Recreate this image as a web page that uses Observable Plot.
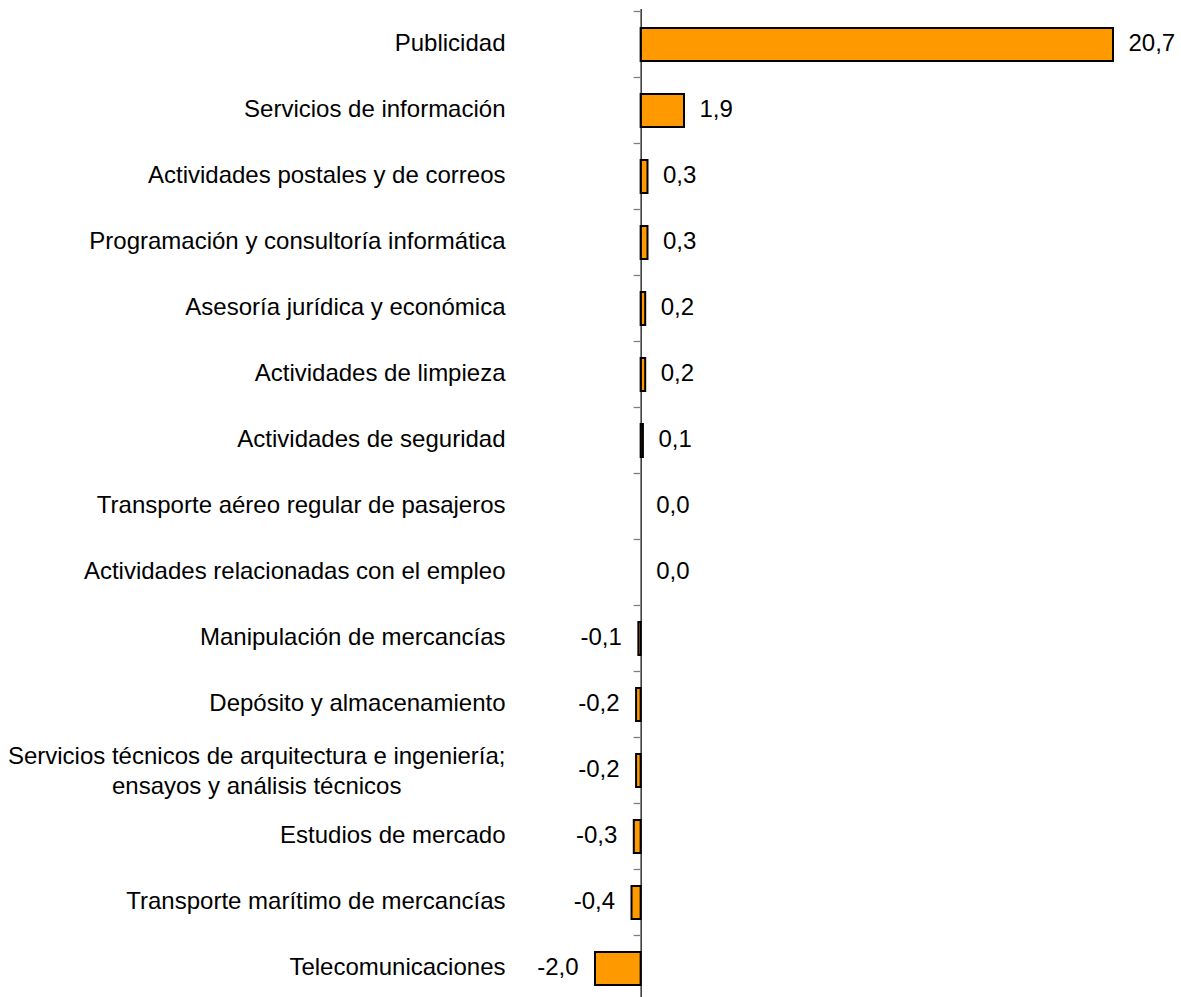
<!DOCTYPE html>
<html>
<head>
<meta charset="utf-8">
<script src="https://cdn.jsdelivr.net/npm/d3@7"></script>
<script src="https://cdn.jsdelivr.net/npm/@observablehq/plot@0.6"></script>
<style>
  html, body { margin: 0; padding: 0; background: #fff; overflow: hidden; }
  #chart svg { display: block; }
</style>
</head>
<body>
<div id="chart"></div>
<script>
const categories = [
  "Publicidad",
  "Servicios de información",
  "Actividades postales y de correos",
  "Programación y consultoría informática",
  "Asesoría jurídica y económica",
  "Actividades de limpieza",
  "Actividades de seguridad",
  "Transporte aéreo regular de pasajeros",
  "Actividades relacionadas con el empleo",
  "Manipulación de mercancías",
  "Depósito y almacenamiento",
  "Servicios técnicos de arquitectura e ingeniería;\nensayos y análisis técnicos",
  "Estudios de mercado",
  "Transporte marítimo de mercancías",
  "Telecomunicaciones"
];
const values = [20.7, 1.9, 0.3, 0.3, 0.2, 0.2, 0.1, 0.0, 0.0, -0.1, -0.2, -0.2, -0.3, -0.4, -2.0];

const data = categories.map((c, i) => ({cat: c, value: values[i]}));
const fmt = v => v.toFixed(1).replace(".", ",");

const FONT = "24px 'Liberation Sans', Arial, sans-serif";
const ctx = document.createElement("canvas").getContext("2d");
ctx.font = FONT;
const labelGap = -90;

const single = data.filter(d => !d.cat.includes("\n"));
const multi = data.filter(d => d.cat.includes("\n"));
const multiDx = multi.length ? labelGap - ctx.measureText(multi[0].cat.split("\n")[0]).width / 2 : 0;

function boundaryTicks(index, scales, values, dimensions) {
  const ns = "http://www.w3.org/2000/svg";
  const g = document.createElementNS(ns, "g");
  const y = scales.y;
  const step = y(categories[1]) - y(categories[0]);
  const bw = step * 0.5;
  const x0 = scales.x(0);
  const tops = categories.map(c => y(c) - (step - bw) / 2);
  tops.push(tops[tops.length - 1] + step);
  for (const t of tops) {
    const l = document.createElementNS(ns, "line");
    l.setAttribute("x1", x0 - 7);
    l.setAttribute("x2", x0);
    l.setAttribute("y1", t);
    l.setAttribute("y2", t);
    l.setAttribute("stroke", "#7f7f7f");
    l.setAttribute("stroke-width", 1.3);
    g.appendChild(l);
  }
  return g;
}

const chart = Plot.plot({
  width: 1181,
  height: 1003,
  marginTop: 9,
  marginBottom: 0,
  marginLeft: 595,
  marginRight: 68,
  style: {fontFamily: "'Liberation Sans', Arial, sans-serif", fontSize: "24px", color: "#000", background: "#fff"},
  x: {domain: [-2, 20.7], axis: null},
  y: {domain: categories, axis: null, paddingInner: 0.5, paddingOuter: 0.25},
  marks: [
    Plot.barX(data, {x: "value", y: "cat", fill: "#FF9900", stroke: "#000", strokeWidth: 2}),
    Plot.ruleX([0], {stroke: "#000", strokeWidth: 1.2}),
    boundaryTicks,
    Plot.text(single, {y: "cat", text: "cat", frameAnchor: "left", dx: labelGap, dy: -2, textAnchor: "end", fill: "#000"}),
    Plot.text(multi, {y: "cat", text: "cat", frameAnchor: "left", dx: multiDx, dy: -2, textAnchor: "middle", lineHeight: 1.25, fill: "#000"}),
    Plot.text(data.filter(d => d.value >= 0), {x: "value", y: "cat", text: d => fmt(d.value), textAnchor: "start", dx: 15, dy: -2, fill: "#000"}),
    Plot.text(data.filter(d => d.value < 0), {x: "value", y: "cat", text: d => fmt(d.value), textAnchor: "end", dx: -17, dy: -2, fill: "#000"})
  ]
});
document.getElementById("chart").appendChild(chart);
</script>
</body>
</html>
